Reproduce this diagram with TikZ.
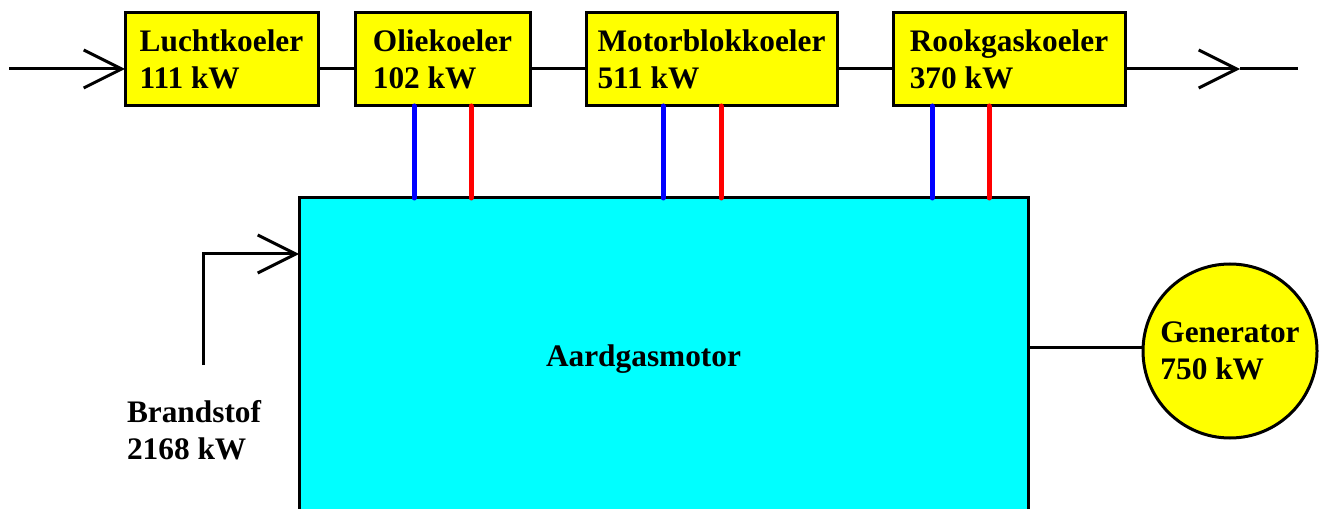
\documentclass[tikz,border=0pt]{standalone}
\usepackage{fontspec}
\setmainfont{Liberation Serif}[BoldFont={Liberation Serif Bold}]
\usetikzlibrary{arrows.meta,calc}
\definecolor{aqua}{RGB}{0,255,255}
\definecolor{yel}{RGB}{255,255,0}
\definecolor{pblue}{RGB}{0,0,255}
\definecolor{pred}{RGB}{255,0,0}
\begin{document}
\begin{tikzpicture}[x=0.75pt,y=-0.75pt,
  every node/.style={font=\bfseries\fontsize{23.5}{27.75}\selectfont, outer sep=0pt, inner sep=0pt},
  cooler/.style={draw=black, line width=2.25pt, fill=yel, minimum height=69.75pt, align=left},
  motorbox/.style={draw=black, line width=2.25pt, fill=aqua},
  genbox/.style={circle, draw=black, line width=2.25pt, fill=yel, align=left},
  conn/.style={draw=black, line width=2.25pt},
  barb/.style={-{Straight Barb[length=28.5pt,width=28.5pt]}},
  cold/.style={draw=pblue, line width=3.75pt, line cap=round},
  hot/.style={draw=pred, line width=3.75pt, line cap=round},
]
\useasboundingbox (0,0) rectangle (1319,509);
\clip (0,0) rectangle (1319,509);

% coordinates
\coordinate (inS) at (9,69);
\coordinate (ly) at (0,69);
\coordinate (outT) at (1240,69);
\coordinate (outE) at (1298,69);
\coordinate (fuelS) at (203,365);
\coordinate (fy) at (0,254);
\coordinate (gy) at (0,347);
\coordinate (b1) at (414,0);
\coordinate (r1) at (471,0);
\coordinate (b2) at (663,0);
\coordinate (r2) at (721,0);
\coordinate (b3) at (932,0);
\coordinate (r3) at (989,0);

% main engine
\node[motorbox, minimum width=546.75pt, minimum height=271.5pt] (motor) at (663.5,379) {};
\node[anchor=base] (motorlbl) at (643.5,366) {Aardgasmotor};

% coolers
\node[cooler, minimum width=144.75pt] (L) at (221.5,59.5) {Luchtkoeler\\111 kW};
\node[cooler, minimum width=131.25pt] (O) at (442.5,59.5) {Oliekoeler\\102 kW};
\node[cooler, minimum width=188.25pt] (M) at (711.5,59.5) {Motorblokkoeler\\511 kW};
\node[cooler, minimum width=174pt] (R) at (1009,59.5) {Rookgaskoeler\\370 kW};

% generator
\node[genbox, minimum size=130.5pt] (gen) at (1230,351) {Generator\\750 kW};

% fuel label
\node[anchor=west, align=left] (fuellbl) at (127,430) {Brandstof\\2168 kW};

% air path
\draw[conn, barb] (inS) -- (L.west |- ly);
\draw[conn] (L.east |- ly) -- (O.west |- ly);
\draw[conn] (O.east |- ly) -- (M.west |- ly);
\draw[conn] (M.east |- ly) -- (R.west |- ly);
\draw[conn, barb] (R.east |- ly) -- (outT);
\draw[conn] (outT) -- (outE);

% fuel
\draw[conn, barb] (fuelS) |- (motor.west |- fy);

% generator shaft
\draw[conn] (motor.east |- gy) -- (gen.west |- gy);

% cooling pipes
\draw[cold] (O.south -| b1) -- (motor.north -| b1);
\draw[hot]  (O.south -| r1) -- (motor.north -| r1);
\draw[cold] (M.south -| b2) -- (motor.north -| b2);
\draw[hot]  (M.south -| r2) -- (motor.north -| r2);
\draw[cold] (R.south -| b3) -- (motor.north -| b3);
\draw[hot]  (R.south -| r3) -- (motor.north -| r3);
\end{tikzpicture}
\end{document}
